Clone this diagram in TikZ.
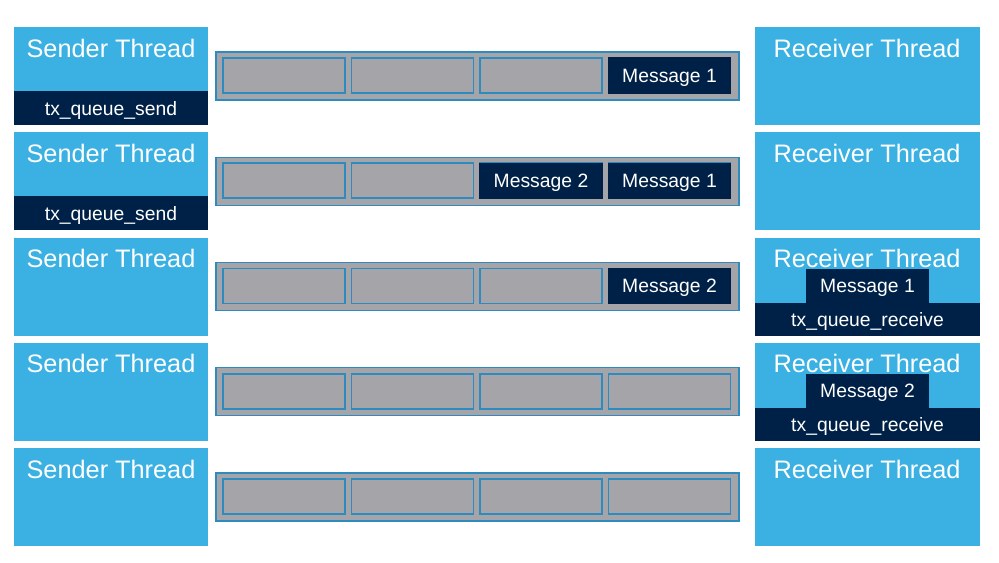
\documentclass[tikz,border=0pt]{standalone}
\usepackage{fontspec}
\setmainfont{Liberation Sans}
\definecolor{threadblue}{RGB}{59,177,227}
\definecolor{navy}{RGB}{0,33,71}
\definecolor{queuegray}{RGB}{165,165,169}
\definecolor{slotline}{RGB}{46,139,192}
\tikzset{
  thread/.style={fill=threadblue},
  band/.style={fill=navy},
  queue/.style={fill=queuegray, draw=slotline, line width=0.6pt},
  slot/.style={draw=slotline, line width=0.9pt},
  msgslot/.style={fill=navy, draw=navy, line width=0.8pt},
  title/.style={text=white, inner sep=0pt, font=\fontsize{14.4}{16}\selectfont},
  lbl/.style={text=white, inner sep=0pt, yshift=-1.2pt, font=\fontsize{11}{13}\selectfont},
}
\begin{document}
\begin{tikzpicture}[x=0.02cm,y=-0.02cm]
  \useasboundingbox (0,0) rectangle (999,562);
  \foreach \r in {0,...,4} {
    \pgfmathsetmacro{\t}{27+105.25*\r}
    % threads
    \fill[thread] (14,\t) rectangle (208,{\t+98});
    \fill[thread] (755,\t) rectangle (980,{\t+98});
    \node[title] (send\r) at (111,{\t+21}) {Sender Thread};
    \node[title] (recv\r) at (867,{\t+21}) {Receiver Thread};
    % queue with four slots
    \draw[queue] (216,{\t+25}) rectangle (739,{\t+73});
    \foreach \s in {0,...,3}
      \draw[slot] ({223+128.5*\s},{\t+31}) rectangle ({345+128.5*\s},{\t+66});
  }
  % row 1: send message 1
  \fill[band] (14,91) rectangle (208,125);
  \node[lbl] (call0) at (111,108) {tx\_queue\_send};
  \draw[msgslot] (608.5,58) rectangle (730.5,93);
  \node[lbl] (m01) at (669.5,75.5) {Message 1};
  % row 2: send message 2
  \fill[band] (14,196.25) rectangle (208,230.25);
  \node[lbl] (call1) at (111,213.25) {tx\_queue\_send};
  \draw[msgslot] (480,163.25) rectangle (602,198.25);
  \node[lbl] (m12) at (541,180.75) {Message 2};
  \draw[msgslot] (608.5,163.25) rectangle (730.5,198.25);
  \node[lbl] (m11) at (669.5,180.75) {Message 1};
  % row 3: receive message 1
  \draw[msgslot] (608.5,268.5) rectangle (730.5,303.5);
  \node[lbl] (m22) at (669.5,286) {Message 2};
  \fill[band] (755,302.5) rectangle (980,335.5);
  \fill[band] (806,268.5) rectangle (929,302.5);
  \node[lbl] (r2) at (867.5,285.5) {Message 1};
  \node[lbl] (call2) at (867.5,319.5) {tx\_queue\_receive};
  % row 4: receive message 2
  \fill[band] (755,407.75) rectangle (980,440.75);
  \fill[band] (806,373.75) rectangle (929,407.75);
  \node[lbl] (r3) at (867.5,390.75) {Message 2};
  \node[lbl] (call3) at (867.5,424.75) {tx\_queue\_receive};
\end{tikzpicture}
\end{document}
